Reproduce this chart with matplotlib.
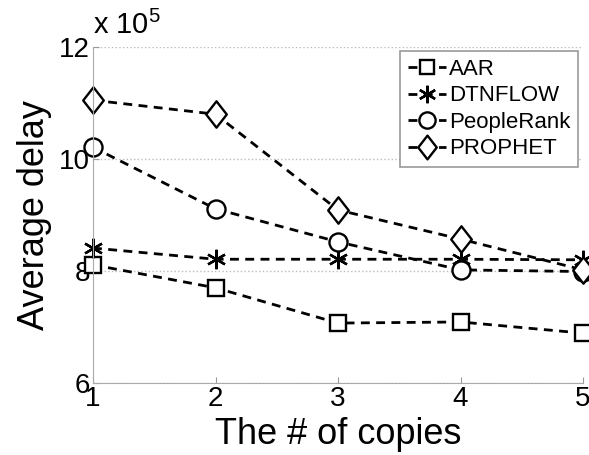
import matplotlib.pyplot as plt
from matplotlib.path import Path

plt.rcParams['font.family'] = ['Liberation Sans', 'DejaVu Sans']
plt.rcParams['mathtext.fontset'] = 'custom'
plt.rcParams['mathtext.rm'] = 'Liberation Sans'

copies = [1, 2, 3, 4, 5]
aar = [8.11, 7.70, 7.07, 7.09, 6.89]
dtnflow = [8.41, 8.21, 8.21, 8.21, 8.20]
peoplerank = [10.21, 9.11, 8.52, 8.02, 7.99]
prophet = [11.05, 10.80, 9.09, 8.57, 8.02]

# diamond a bit wider than matplotlib's thin diamond
diamond = Path([(0, 1), (0.78, 0), (0, -1), (-0.78, 0), (0, 1)],
               [Path.MOVETO, Path.LINETO, Path.LINETO, Path.LINETO, Path.CLOSEPOLY])

series = [
    ('AAR', aar, 's', 11),
    ('DTNFLOW', dtnflow, (6, 2, 0), 14),
    ('PeopleRank', peoplerank, 'o', 13),
    ('PROPHET', prophet, diamond, 19),
]

fig = plt.figure(figsize=(5.89, 4.55), dpi=100)
ax = fig.add_axes([93 / 589, 1 - 383 / 455, 490 / 589, 336 / 455])

for name, vals, mk, ms in series:
    ax.plot(copies, vals, color='black', linestyle='--', linewidth=2,
            dashes=(3.2, 2.3), marker=mk, markersize=ms,
            markerfacecolor='white', markeredgecolor='black',
            markeredgewidth=1.7, label=name, clip_on=False)

ax.set_xlim(1, 5)
ax.set_ylim(6, 12)
ax.set_xticks(copies)
ax.set_yticks([6, 8, 10, 12])
ax.set_yticklabels(['6', '8', '10', '12'])
ax.tick_params(direction='in', length=4, color='#999999', labelsize=20, pad=2)
for s in ['top', 'right']:
    ax.spines[s].set_visible(False)
for s in ['left', 'bottom']:
    ax.spines[s].set_color('#aaaaaa')
ax.yaxis.grid(True, linestyle=':', color='#bbbbbb', linewidth=1)
ax.set_axisbelow(True)

ax.set_xlabel('The # of copies', fontsize=26, labelpad=4)
ax.set_ylabel('Average delay', fontsize=26, labelpad=5)
ax.text(0.0, 1.02, r'x 10$^5$', transform=ax.transAxes, fontsize=21,
        ha='left', va='bottom')

leg = ax.legend(loc='upper right', bbox_to_anchor=(578 / 589, 1 - 51 / 455),
                bbox_transform=fig.transFigure, fontsize=16, handlelength=1.7,
                handletextpad=0.15, labelspacing=0.25, borderpad=0.35,
                borderaxespad=0, fancybox=False, framealpha=1, markerscale=0.9)
leg.get_frame().set_edgecolor('#999999')
leg.get_frame().set_linewidth(1.2)

fig.savefig('out.png', dpi=100)
